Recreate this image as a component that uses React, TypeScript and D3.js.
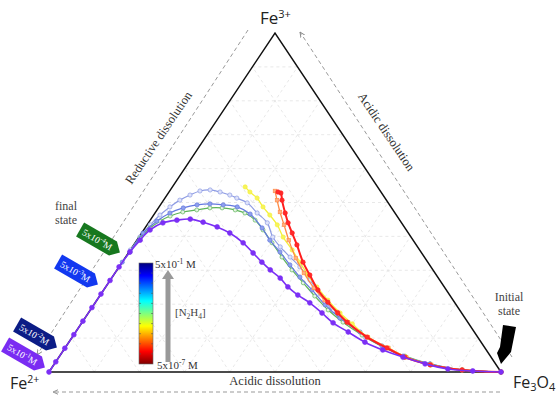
import React from "react";
import * as d3 from "d3";

const W = 557;
const H = 396;

// triangle corners (px)
const LEFT = { x: 49, y: 372 };
const RIGHT = { x: 501, y: 372 };
const TOP = { x: 275, y: 33 };

// each point: [Fe3+ %, Fe3O4 %], Fe2+ is the rest
const conc1 = [
  [0, 100], [0.3, 93.6], [0.9, 87.8], [2.4, 82.0], [4.4, 76.1], [6.5, 70.6], [8.8, 65.5],
  [11.8, 60.3], [14.5, 55.6], [17.4, 51.7], [20.4, 47.5], [22.7, 43.7], [25.1, 40.3],
  [27.7, 37.3], [30.1, 33.9], [32.4, 30.9], [35.1, 27.6], [38.1, 23.9], [41.0, 19.5],
  [42.8, 15.8], [44.2, 12.0], [45.1, 8.7], [44.8, 5.9], [44.0, 3.2], [41.9, 1.4],
  [38.9, 0.7], [35.4, 0.2], [31, 0], [27, 0], [23, 0], [19, 0], [15, 0], [11, 0],
  [7, 0], [3, 0], [0, 0],
];
const conc2 = [
  [0, 100], [0.6, 91.1], [2.1, 83.3], [4.4, 76.5], [7.1, 70.8], [10.3, 64.8], [14.5, 58.7],
  [18.0, 53.8], [23.0, 48.5], [27.1, 44.2], [31.0, 40.0], [33.9, 36.4], [36.9, 32.7],
  [39.8, 29.6], [44.0, 26.3], [46.9, 22.6], [49.9, 18.9], [51.3, 15.9], [52.2, 13.9],
  [53.1, 11.3], [53.7, 8.8], [53.4, 6.7], [52.2, 5.1], [50.7, 3.6], [48.7, 2.4],
  [46.3, 1.4], [43.4, 0.7], [39.8, 0.2], [36.0, 0],
];
const conc3 = [
  [0, 100], [0.6, 91.1], [2.4, 83.1], [4.7, 76.0], [7.7, 69.8], [11.8, 62.9], [15.9, 56.4],
  [19.8, 51.2], [24.2, 46.1], [28.0, 41.5], [31.6, 37.5], [35.4, 33.4], [38.9, 29.4],
  [42.5, 25.9], [46.6, 21.2], [48.7, 17.3], [49.3, 13.9], [49.6, 10.8], [49.3, 8.1],
  [48.4, 5.5], [46.9, 3.3], [44.5, 1.6], [41.0, 0.3], [35.4, 0.2], [32.4, 0],
];
const conc4 = [
  [0, 100], [0.6, 91.1], [2.4, 83.1], [4.7, 76.4], [7.4, 70.2], [10.9, 63.8], [14.7, 57.7],
  [18.3, 52.6], [22.4, 47.6], [26.3, 43.1], [30.1, 38.7], [33.9, 34.6], [38.1, 30.3],
  [41.9, 26.4], [44.8, 23.2], [46.9, 19.9], [47.8, 17.3], [48.4, 14.1], [48.4, 11.4],
  [47.8, 8.8], [47.2, 6.0], [46.0, 3.8], [44.5, 2.3], [42.5, 1.1], [39.5, 0.4], [35.4, 0.2],
];
const conc5 = [
  [0, 100], [0.6, 91.1], [2.1, 83.5], [4.4, 76.8], [7.1, 71.5], [10.3, 65.4], [14.2, 60.0],
  [17.4, 55.7], [21.2, 51.1], [25.1, 46.7], [28.6, 43.0], [32.4, 39.3], [36.0, 35.8],
  [39.8, 31.9], [43.4, 28.8], [46.3, 25.7], [48.7, 23.0], [51.3, 20.4], [53.1, 17.9],
  [54.6, 16.1],
];
const conc6 = [
  [0, 100], [0.6, 91.1], [2.1, 83.5], [4.4, 76.8], [7.1, 71.5], [10.3, 65.4], [14.7, 58.8],
  [17.7, 54.9], [21.2, 50.4], [24.8, 46.2], [29.2, 41.8], [33.6, 37.8], [38.9, 33.6],
  [43.4, 30.3], [47.2, 27.5], [50.7, 25.1], [53.4, 23.3],
];
const conc7 = [
  [0, 100], [0.6, 91.1], [2.1, 83.3], [4.4, 76.5], [7.1, 71.2], [10.3, 65.2], [14.7, 58.6],
  [17.4, 55.2], [20.6, 51.4], [24.2, 47.4], [28.6, 43.4], [32.4, 40.0], [37.5, 36.1],
  [41.0, 33.3], [44.0, 30.9], [46.9, 28.8], [50.7, 26.2], [52.8, 24.9], [53.1, 24.1],
];

const tagLabels = [
  { exp: "-4", color: "#17781f", cx: 100, cy: 241 },
  { exp: "-3", color: "#1238f0", cx: 78, cy: 273 },
  { exp: "-2", color: "#0b1c86", cx: 37, cy: 336 },
  { exp: "-1", color: "#7a2cf2", cx: 25, cy: 356 },
];

const series = [
  { data: conc2, stroke: "#8e9ce4", fill: "#dfe3fa", width: 1.2, r: 2.1, shape: "circle" },
  { data: conc4, stroke: "#5fb55a", fill: "#e2f3df", width: 1.2, r: 2.0, shape: "circle" },
  { data: conc3, stroke: "#6479e0", fill: "#8fa0ec", width: 1.2, r: 2.1, shape: "circle" },
  { data: conc5, stroke: "#f4f13a", fill: "#f7f45a", width: 1.3, r: 2.1, shape: "circle" },
  { data: conc6, stroke: "#ff8a45", fill: "#ffb080", width: 1.3, r: 1.8, shape: "square" },
  { data: conc7, stroke: "#ff1d1d", fill: "#ff2a2a", width: 2, r: 2.2, shape: "circle" },
  { data: conc1, stroke: "#7b2ff5", fill: "#7b2ff5", width: 1.6, r: 2.4, shape: "circle" },
];

const jet = ["#00007f", "#0000ff", "#007fff", "#00ffff", "#7fff7f", "#ffff00", "#ff7f00", "#ff0000", "#7f0000"];

const xs = d3.scaleLinear().domain([0, 100]).range([LEFT.x, RIGHT.x]);
const ys = d3.scaleLinear().domain([0, 100]).range([LEFT.y, TOP.y]);
// t = Fe3+ %, r = Fe3O4 %
const proj = (t: number, r: number): [number, number] => [xs(r + t / 2), ys(t)];

const serif = "'Liberation Serif', 'Times New Roman', serif";
const sans = "'Open Sans', 'DejaVu Sans', sans-serif";

export default function App() {
  const line = d3
    .line<number[]>()
    .x((d) => proj(d[0], d[1])[0])
    .y((d) => proj(d[0], d[1])[1])
    .curve(d3.curveCatmullRom.alpha(0.5));

  const grid: [number, number][][] = [];
  for (let i = 1; i < 10; i++) {
    const v = i * 10;
    grid.push([proj(v, 0), proj(v, 100 - v)]);
    grid.push([proj(0, v), proj(100 - v, v)]);
    grid.push([proj(0, 100 - v), proj(100 - v, 0)]);
  }

  const cbX = 139, cbY = 263, cbW = 14, cbH = 101;

  return (
    <svg width={W} height={H} style={{ display: "block", position: "absolute", left: 0, top: 0, background: "#fff" }}>
      <defs>
        <linearGradient id="jet" x1="0" y1="0" x2="0" y2="1">
          {jet.map((c, i) => (
            <stop key={i} offset={i / (jet.length - 1)} stopColor={c} />
          ))}
        </linearGradient>
        <marker id="ah" viewBox="0 0 10 10" refX="9" refY="5" markerWidth="6" markerHeight="6" orient="auto">
          <path d="M0,1 L9,5 L0,9" fill="none" stroke="#888" strokeWidth="1.5" />
        </marker>
      </defs>

      {/* grid */}
      {grid.map((g, i) => (
        <line key={i} x1={g[0][0]} y1={g[0][1]} x2={g[1][0]} y2={g[1][1]}
          stroke="#e2e2e2" strokeWidth={0.8} strokeDasharray="3,3" />
      ))}

      {/* triangle */}
      <path d={`M${LEFT.x},${LEFT.y}L${TOP.x},${TOP.y}L${RIGHT.x},${RIGHT.y}Z`}
        fill="none" stroke="#111" strokeWidth={1.5} strokeLinejoin="miter" />

      {/* dashed direction lines */}
      <line x1={248} y1={30} x2={37} y2={355} stroke="#999" strokeDasharray="4,3" markerEnd="url(#ah)" />
      <line x1={512} y1={357} x2={300} y2={32} stroke="#999" strokeDasharray="4,3" markerEnd="url(#ah)" />
      <line x1={500} y1={392} x2={53} y2={392} stroke="#999" strokeDasharray="4,3" markerEnd="url(#ah)" />

      {/* curves */}
      {series.map((s, i) => (
        <g key={i}>
          <path d={line(s.data) || ""} fill="none" stroke={s.stroke} strokeWidth={s.width} />
          {s.data.map((d, j) => {
            const [px, py] = proj(d[0], d[1]);
            return s.shape === "square" ? (
              <rect key={j} x={px - s.r} y={py - s.r} width={s.r * 2} height={s.r * 2}
                fill={s.fill} stroke={s.stroke} strokeWidth={0.6} />
            ) : (
              <circle key={j} cx={px} cy={py} r={s.r} fill={s.fill} stroke={s.stroke} strokeWidth={0.7} />
            );
          })}
        </g>
      ))}

      {/* corner labels */}
      <text x={260} y={24} fontFamily={sans} fontSize={17} fill="#222">
        Fe<tspan fontSize={11} dy={-6}>3+</tspan>
      </text>
      <text x={10} y={389} fontFamily={sans} fontSize={16} fill="#222">
        Fe<tspan fontSize={10.5} dy={-6}>2+</tspan>
      </text>
      <text x={513} y={388} fontFamily={sans} fontSize={16} fill="#222">
        Fe<tspan fontSize={11} dy={3}>3</tspan><tspan dy={-3}>O</tspan><tspan fontSize={11} dy={3}>4</tspan>
      </text>

      {/* process labels */}
      <text transform="translate(162,140) rotate(-56)" textAnchor="middle" fontFamily={serif} fontSize={12.5} fill="#333">
        Reductive dissolution
      </text>
      <text transform="translate(383,134) rotate(56)" textAnchor="middle" fontFamily={serif} fontSize={12.5} fill="#333">
        Acidic dissolution
      </text>
      <text x={275} y={385} textAnchor="middle" fontFamily={serif} fontSize={12.5} fill="#333">
        Acidic dissolution
      </text>

      <text x={66} y={210} textAnchor="middle" fontFamily={serif} fontSize={12} fill="#444">final</text>
      <text x={66} y={224} textAnchor="middle" fontFamily={serif} fontSize={12} fill="#444">state</text>
      <text x={509} y={301} textAnchor="middle" fontFamily={serif} fontSize={12} fill="#444">Initial</text>
      <text x={509} y={315} textAnchor="middle" fontFamily={serif} fontSize={12} fill="#444">state</text>

      {/* initial state arrow */}
      <path d="M503,325 L516,327 L511,352 L501,364 L497,353 L500,347 Z" fill="#000" />

      {/* final state tags */}
      {tagLabels.map((t, i) => (
        <g key={i} transform={`translate(${t.cx},${t.cy}) rotate(30)`}>
          <path d="M-23,-8 H15 L23,0 L15,8 H-23 Z" fill={t.color} />
          <text x={-3} y={3.5} textAnchor="middle" fontFamily={serif} fontSize={9.5} fill="#fff">
            5x10<tspan fontSize={6.5} dy={-4}>{t.exp}</tspan><tspan dy={4}>M</tspan>
          </text>
        </g>
      ))}

      {/* colorbar */}
      <rect x={cbX} y={cbY} width={cbW} height={cbH} fill="url(#jet)" stroke="#666" strokeWidth={0.6} />
      {d3.range(1, 10).map((i) => {
        const yy = cbY + (cbH * i) / 10;
        return (
          <g key={i}>
            <line x1={cbX} x2={cbX + 2} y1={yy} y2={yy} stroke="#555" strokeWidth={0.6} />
            <line x1={cbX + cbW - 2} x2={cbX + cbW} y1={yy} y2={yy} stroke="#555" strokeWidth={0.6} />
          </g>
        );
      })}
      <text x={155} y={268} fontFamily={serif} fontSize={11} fill="#333">
        5x10<tspan fontSize={7.5} dy={-4}>-1</tspan><tspan dy={4}> M</tspan>
      </text>
      <text x={157} y={369} fontFamily={serif} fontSize={11} fill="#333">
        5x10<tspan fontSize={7.5} dy={-4}>-7</tspan><tspan dy={4}> M</tspan>
      </text>
      <rect x={165.5} y={278} width={5} height={84} fill="#999" />
      <path d="M162,279 L168,270 L174,279 Z" fill="#999" />
      <text x={175} y={316} fontFamily={serif} fontSize={11} fill="#444">
        [N<tspan fontSize={7.5} dy={3}>2</tspan><tspan dy={-3}>H</tspan><tspan fontSize={7.5} dy={3}>4</tspan><tspan dy={-3}>]</tspan>
      </text>
    </svg>
  );
}
